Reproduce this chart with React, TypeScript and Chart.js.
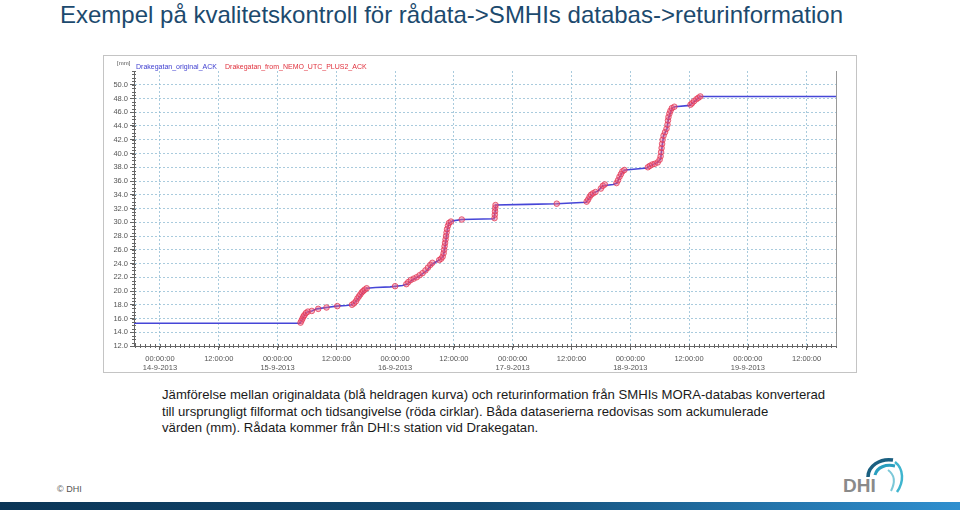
import React, { useEffect, useRef } from "react";
import { Chart, registerables } from "chart.js";
Chart.register(...registerables);

// Hours since 14-9-2013 00:00
const blueHours = [-5.3, 28.6, 29.0, 29.5, 30.0, 31.0, 32.0, 34.0, 36.0, 38.0, 39.2, 40.0, 40.8, 41.5, 42.2, 44.0, 47.0, 49.5, 50.5, 51.5, 53.0, 54.5, 55.5, 56.5, 57.2, 57.8, 58.1, 58.4, 58.7, 59.0, 59.8, 61.6, 68.2, 68.4, 68.5, 75.0, 81.0, 87.0, 87.3, 88.4, 89.5, 90.4, 92.5, 93.3, 93.7, 94.5, 95.0, 99.4, 100.0, 101.6, 102.2, 102.5, 102.8, 103.5, 103.8, 104.5, 105.1, 108.2, 108.6, 109.5, 110.2, 138.0];
const blueValues = [15.3, 15.3, 15.8, 16.5, 16.9, 17.1, 17.4, 17.6, 17.8, 17.9, 18.0, 18.5, 19.2, 19.9, 20.4, 20.5, 20.6, 20.8, 21.0, 21.6, 22.2, 23.0, 23.9, 24.3, 24.6, 25.0, 26.0, 27.5, 29.0, 29.9, 30.2, 30.4, 30.5, 31.5, 32.5, 32.6, 32.7, 32.9, 33.2, 34.2, 34.6, 35.3, 35.5, 35.7, 36.4, 37.4, 37.6, 37.9, 38.2, 38.7, 39.2, 41.0, 42.6, 43.6, 45.1, 46.6, 46.8, 47.0, 47.3, 47.8, 48.3, 48.3];

const redHours = [28.7, 28.9, 29.1, 29.3, 29.5, 29.8, 30.2, 31.0, 32.3, 34.0, 36.2, 39.2, 39.6, 40.0, 40.3, 40.6, 40.9, 41.2, 41.5, 41.8, 42.2, 48.0, 50.3, 50.7, 51.2, 51.8, 52.4, 53.0, 53.6, 54.2, 54.7, 55.2, 55.6, 57.0, 57.4, 57.7, 57.9, 58.0, 58.1, 58.2, 58.3, 58.4, 58.5, 58.6, 58.8, 59.0, 59.4, 61.6, 68.3, 68.35, 68.4, 68.45, 68.5, 81.0, 87.1, 87.4, 87.7, 88.0, 88.4, 88.9, 90.0, 90.4, 90.8, 93.2, 93.5, 93.8, 94.1, 94.4, 94.8, 99.6, 100.0, 100.5, 101.0, 101.6, 102.0, 102.2, 102.3, 102.4, 102.5, 102.6, 102.8, 103.1, 103.4, 103.6, 103.7, 103.8, 104.0, 104.2, 104.5, 105.0, 108.3, 108.6, 109.0, 109.5, 109.9, 110.3];
const redValues = [15.4, 15.7, 16.0, 16.3, 16.5, 16.8, 17.0, 17.1, 17.4, 17.6, 17.8, 18.0, 18.2, 18.5, 18.9, 19.2, 19.5, 19.8, 20.0, 20.2, 20.4, 20.7, 21.0, 21.3, 21.6, 21.8, 22.0, 22.3, 22.6, 23.0, 23.4, 23.8, 24.1, 24.5, 24.7, 25.0, 25.5, 26.0, 26.5, 27.0, 27.5, 28.0, 28.5, 29.0, 29.5, 29.9, 30.1, 30.4, 30.6, 31.1, 31.6, 32.1, 32.5, 32.7, 33.0, 33.3, 33.7, 34.0, 34.2, 34.4, 34.9, 35.3, 35.5, 35.7, 36.1, 36.6, 37.0, 37.4, 37.6, 38.0, 38.2, 38.4, 38.5, 38.7, 39.1, 39.6, 40.2, 40.8, 41.4, 42.0, 42.6, 43.1, 43.6, 44.2, 44.8, 45.3, 45.8, 46.2, 46.6, 46.8, 47.1, 47.3, 47.6, 47.9, 48.1, 48.3];

const xTickHours = [0, 12, 24, 36, 48, 60, 72, 84, 96, 108, 120, 132];
const xTickLabels: (string | string[])[] = [
  ["00:00:00", "14-9-2013"], "12:00:00",
  ["00:00:00", "15-9-2013"], "12:00:00",
  ["00:00:00", "16-9-2013"], "12:00:00",
  ["00:00:00", "17-9-2013"], "12:00:00",
  ["00:00:00", "18-9-2013"], "12:00:00",
  ["00:00:00", "19-9-2013"], "12:00:00",
];
const yTickValues = [12, 14, 16, 18, 20, 22, 24, 26, 28, 30, 32, 34, 36, 38, 40, 42, 44, 46, 48, 50];

const seriesBlueName = "Drakegatan_original_ACK";
const seriesRedName = "Drakegatan_from_NEMO_UTC_PLUS2_ACK";
const unitLabel = "[mm]";

const captionLines = [
  "Jämförelse mellan originaldata (blå heldragen kurva) och returinformation från SMHIs MORA-databas konverterad",
  "till ursprungligt filformat och tidsangivelse (röda cirklar). Båda dataserierna redovisas som ackumulerade",
  "värden (mm). Rådata kommer från DHI:s station vid Drakegatan.",
];

const minorTicks = {
  id: "minorTicks",
  afterDraw(chart: any) {
    const { ctx, chartArea } = chart;
    const x = chart.scales.x;
    const y = chart.scales.y;
    ctx.save();
    ctx.strokeStyle = "#666";
    ctx.lineWidth = 1;
    ctx.beginPath();
    for (let h = Math.ceil(x.min); h <= x.max; h += 1) {
      const px = Math.round(x.getPixelForValue(h)) + 0.5;
      ctx.moveTo(px, chartArea.bottom - 2);
      ctx.lineTo(px, chartArea.bottom + 2);
    }
    for (let v = y.min; v <= y.max; v += 0.5) {
      const py = Math.round(y.getPixelForValue(v)) + 0.5;
      ctx.moveTo(chartArea.left - 2, py);
      ctx.lineTo(chartArea.left + 2, py);
    }
    ctx.stroke();
    ctx.strokeStyle = "#9a9a9a";
    ctx.beginPath();
    ctx.moveTo(Math.round(chartArea.right) + 0.5, chartArea.top);
    ctx.lineTo(Math.round(chartArea.right) + 0.5, chartArea.bottom);
    ctx.stroke();
    ctx.restore();
  },
};

function ChartBox() {
  const ref = useRef<HTMLCanvasElement>(null);
  useEffect(() => {
    if (!ref.current) return;
    const gridColor = "rgba(140,185,210,0.75)";
    const tickFont = { family: "'Liberation Sans', Arial, sans-serif", size: 7.5 };
    const chart = new Chart(ref.current, {
      type: "line",
      data: {
        datasets: [
          {
            label: seriesRedName,
            data: redHours.map((h, i) => ({ x: h, y: redValues[i] })),
            showLine: false,
            pointRadius: 2.8,
            pointBorderWidth: 1,
            pointBorderColor: "rgba(225,45,75,0.7)",
            pointBackgroundColor: "rgba(240,100,130,0.45)",
          },
          {
            label: seriesBlueName,
            data: blueHours.map((h, i) => ({ x: h, y: blueValues[i] })),
            borderColor: "rgb(70,70,215)",
            borderWidth: 1.6,
            pointRadius: 0,
            tension: 0,
          },
        ],
      },
      options: {
        animation: false,
        responsive: true,
        maintainAspectRatio: false,
        layout: { padding: { top: 15, right: 20, left: 0, bottom: 0 } },
        plugins: { legend: { display: false }, tooltip: { enabled: false } },
        scales: {
          x: {
            type: "linear",
            min: -5.3,
            max: 138,
            afterBuildTicks: (s: any) => {
              s.ticks = xTickHours.map((v) => ({ value: v }));
            },
            afterFit: (s: any) => {
              s.height = 26;
            },
            ticks: {
              autoSkip: false,
              maxRotation: 0,
              padding: 4,
              color: "#555",
              font: tickFont,
              callback: (_v: any, i: number) => xTickLabels[i],
            },
            grid: { color: gridColor, tickLength: 4, tickColor: "#666" },
            border: { color: "#666", dash: [2, 2] },
          },
          y: {
            type: "linear",
            min: 12,
            max: 52,
            afterBuildTicks: (s: any) => {
              s.ticks = yTickValues.map((v) => ({ value: v }));
            },
            afterFit: (s: any) => {
              s.width = 30;
            },
            ticks: {
              padding: 2,
              color: "#555",
              font: tickFont,
              callback: (v: any) => Number(v).toFixed(1),
            },
            grid: { color: gridColor, tickLength: 4, tickColor: "#666" },
            border: { color: "#666", dash: [2, 2] },
          },
        },
      },
      plugins: [minorTicks],
    } as any);
    return () => chart.destroy();
  }, []);
  return (
    <div style={{ position: "absolute", left: 103, top: 55, width: 752, height: 316, border: "1px solid #c4c4c4", background: "#fff" }}>
      <div style={{ position: "relative", width: 752, height: 316 }}>
        <canvas ref={ref} />
      </div>
      <div style={{ position: "absolute", left: 13, top: 4, fontSize: 6, color: "#555", fontFamily: "'Liberation Sans', Arial, sans-serif" }}>{unitLabel}</div>
      <div style={{ position: "absolute", left: 32, top: 7, fontSize: 7, color: "#4040d0", fontFamily: "'Liberation Sans', Arial, sans-serif", whiteSpace: "nowrap" }}>{seriesBlueName}</div>
      <div style={{ position: "absolute", left: 121, top: 7, fontSize: 7, color: "#e0303c", fontFamily: "'Liberation Sans', Arial, sans-serif", whiteSpace: "nowrap" }}>{seriesRedName}</div>
    </div>
  );
}

export default function App() {
  return (
    <div style={{ position: "fixed", left: 0, top: 0, width: 960, height: 510, background: "#fff", overflow: "hidden", fontFamily: "'Liberation Sans', Arial, sans-serif" }}>
      <div style={{ position: "absolute", left: 60, top: 1, fontSize: 24, lineHeight: "28px", color: "#1c4a6e", whiteSpace: "nowrap", letterSpacing: 0 }}>
        Exempel på kvalitetskontroll för rådata-&gt;SMHIs databas-&gt;returinformation
      </div>
      <ChartBox />
      <div style={{ position: "absolute", left: 162, top: 387, fontSize: 13.15, lineHeight: "16.5px", color: "#1a1a1a", whiteSpace: "nowrap" }}>
        {captionLines.map((l, i) => (
          <div key={i}>{l}</div>
        ))}
      </div>
      <div style={{ position: "absolute", left: 57, top: 484, fontSize: 9, color: "#555" }}>© DHI</div>
      <svg style={{ position: "absolute", left: 840, top: 455 }} width="66" height="42" viewBox="0 0 66 42">
        <path d="M28 22 C 28 11, 40 3, 53 5" stroke="#1a5f80" strokeWidth="3.5" fill="none" />
        <path d="M35 20 C 37 12, 46 9, 55 11" stroke="#2a9fbf" strokeWidth="3" fill="none" />
        <path d="M55 7 C 64 14, 64 27, 57 37" stroke="#3fb5cf" strokeWidth="2.5" fill="none" />
        <path d="M48 15 C 55 20, 55 28, 51 36" stroke="#7cc8d8" strokeWidth="2" fill="none" />
        <text x="3" y="37" fontFamily="'Liberation Sans', Arial, sans-serif" fontWeight="bold" fontSize="19" fill="#8a8a8a">DHI</text>
      </svg>
      <div style={{ position: "absolute", left: 0, top: 502, width: 960, height: 8, background: "linear-gradient(90deg, #0b3556 0%, #124a72 50%, #2f8fcf 100%)" }} />
    </div>
  );
}
